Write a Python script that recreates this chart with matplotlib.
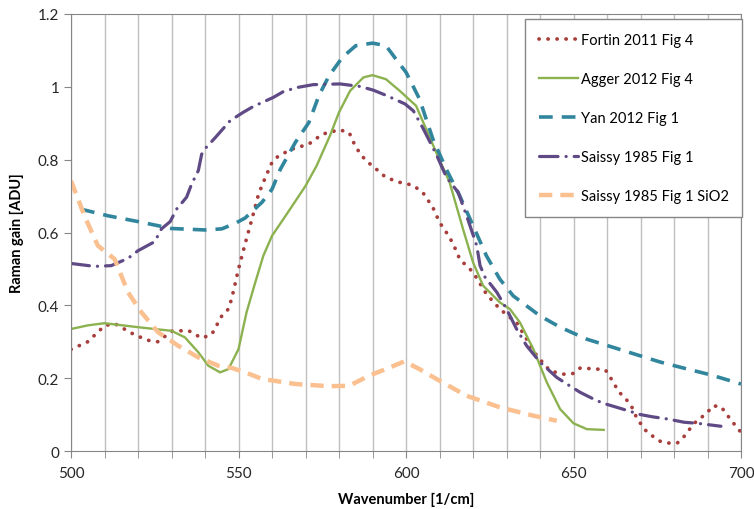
import numpy as np
import matplotlib.pyplot as plt

# --- Datos ---
fortin_x = [500, 505, 510, 513, 519, 523, 526, 530, 535, 539, 542, 545, 547, 548, 550, 552, 554, 556,
            558, 560, 562, 566, 571, 575, 580, 583, 585, 588, 590, 594, 598, 602, 605, 608, 610, 613,
            615, 616, 618, 620, 624, 628, 631, 633, 636, 639, 643, 647, 650, 652, 657, 659.5, 661,
            663.5, 667, 669, 672, 676, 679, 681, 683, 686, 690, 691.5, 694, 697, 700]
fortin_y = [0.279, 0.30, 0.344, 0.35, 0.319, 0.304, 0.30, 0.329, 0.331, 0.31, 0.32, 0.371, 0.39, 0.42,
            0.50, 0.57, 0.637, 0.706, 0.751, 0.793, 0.811, 0.829, 0.843, 0.870, 0.882, 0.875, 0.834,
            0.797, 0.783, 0.751, 0.738, 0.73, 0.71, 0.669, 0.628, 0.587, 0.55, 0.527, 0.509, 0.491,
            0.431, 0.39, 0.367, 0.353, 0.307, 0.262, 0.22, 0.211, 0.213, 0.228, 0.225, 0.223, 0.202,
            0.163, 0.129, 0.088, 0.051, 0.026, 0.021, 0.022, 0.040, 0.076, 0.106, 0.124, 0.122,
            0.085, 0.051]

agger_x = [500, 505, 510, 520, 530, 534, 538, 541, 544.5, 547, 550, 552.4, 555, 557.4, 560, 563.4,
           567.4, 570, 573.3, 577.3, 580, 583.3, 587.3, 590, 594, 598, 603, 609, 613, 617, 620, 623,
           628, 631, 634, 638, 642, 646, 650, 654, 659]
agger_y = [0.335, 0.345, 0.351, 0.34, 0.33, 0.312, 0.271, 0.234, 0.216, 0.225, 0.28, 0.381, 0.463,
           0.536, 0.591, 0.637, 0.692, 0.728, 0.783, 0.866, 0.93, 0.989, 1.026, 1.032, 1.021, 0.99,
           0.948, 0.82, 0.738, 0.61, 0.518, 0.454, 0.408, 0.39, 0.353, 0.28, 0.189, 0.115, 0.076,
           0.06, 0.058]

yan_x = [503, 511, 520, 530, 540, 545, 549, 552, 557, 560, 562.5, 567, 571, 574, 577, 581, 585, 590,
         594, 597, 600, 604, 608, 612, 616, 620, 624, 628, 632, 640, 646, 654, 661, 669, 676, 684,
         691, 700]
yan_y = [0.664, 0.646, 0.63, 0.611, 0.607, 0.61, 0.625, 0.64, 0.683, 0.719, 0.774, 0.848, 0.902,
         0.976, 1.03, 1.081, 1.113, 1.12, 1.113, 1.076, 1.04, 0.967, 0.857, 0.774, 0.701, 0.619,
         0.536, 0.472, 0.426, 0.371, 0.34, 0.307, 0.287, 0.264, 0.244, 0.225, 0.209, 0.184]

saissy_x = [500, 507, 512, 517, 520, 525, 527, 529.6, 531.5, 534.5, 536, 538, 539, 540, 543, 547.5,
            551.4, 554.4, 560.4, 563.4, 567.4, 572.3, 580.3, 586.3, 590.2, 594.2, 599.7, 602.2,
            605.2, 609.2, 612.1, 615.6, 618.6, 621.1, 622.1, 623.6, 627.1, 630, 633, 636, 640, 645,
            648, 652, 657, 660, 664, 670, 673.5, 678, 683, 687, 694]
saissy_y = [0.515, 0.507, 0.509, 0.529, 0.55, 0.575, 0.61, 0.63, 0.664, 0.697, 0.733, 0.77, 0.815,
            0.83, 0.86, 0.907, 0.93, 0.946, 0.971, 0.987, 0.998, 1.006, 1.008, 1.001, 0.991, 0.976,
            0.953, 0.934, 0.884, 0.811, 0.751, 0.71, 0.632, 0.564, 0.509, 0.477, 0.436, 0.39, 0.335,
            0.289, 0.244, 0.202, 0.184, 0.161, 0.138, 0.128, 0.117, 0.1, 0.094, 0.088, 0.079, 0.076,
            0.068]

sio2_x = [500, 504, 508, 513, 514.6, 517, 521, 526, 532, 538, 544, 548, 552, 557, 567, 577, 583, 589,
          594, 599.5, 604, 610, 618, 628, 638, 645]
sio2_y = [0.742, 0.646, 0.564, 0.527, 0.491, 0.436, 0.381, 0.326, 0.289, 0.257, 0.234, 0.228, 0.216,
          0.198, 0.184, 0.178, 0.179, 0.207, 0.225, 0.246, 0.225, 0.193, 0.152, 0.12, 0.097, 0.083]

plt.rcParams['font.family'] = ['Lato', 'DejaVu Sans']

fig = plt.figure(figsize=(7.54, 5.10), dpi=100)
ax = fig.add_axes([0.0942, 0.1137, 0.8886, 0.8569])

# --- Curvas ---
ax.plot(fortin_x, fortin_y, color='#A83E3C', lw=2.7, linestyle=(0, (0.05, 2.35)),
        dash_capstyle='round', label='Fortin 2011 Fig 4')
ax.plot(agger_x, agger_y, color='#8CB250', lw=1.7, label='Agger 2012 Fig 4')
ax.plot(yan_x, yan_y, color='#31869E', lw=2.6, linestyle=(0, (3.8, 2.5)),
        label='Yan 2012 Fig 1')
ax.plot(saissy_x, saissy_y, color='#5F4A86', lw=2.3, linestyle=(0, (5.8, 2.5, 0.05, 2.5)),
        dash_capstyle='round', label='Saissy 1985 Fig 1')
ax.plot(sio2_x, sio2_y, color='#FAC090', lw=3.2, linestyle=(0, (3.0, 1.8)),
        label='Saissy 1985 Fig 1 SiO2')

# --- Ejes ---
ax.set_xlim(500, 700)
ax.set_ylim(0, 1.2)
ax.set_xticks(np.arange(500, 701, 50))
ax.set_xticks(np.arange(500, 701, 10), minor=True)
ax.set_yticks(np.arange(0, 1.21, 0.2))
ax.set_yticklabels(['0', '0.2', '0.4', '0.6', '0.8', '1', '1.2'])
ax.grid(True, which='both', axis='x', color='#BFBFBF', lw=1)
ax.set_axisbelow(True)
ax.tick_params(axis='both', which='both', direction='out', length=5, color='#868686',
               labelsize=11, labelcolor='#262626')
ax.tick_params(axis='x', pad=6)
for s in ax.spines.values():
    s.set_color('#868686')

ax.set_xlabel('Wavenumber [1/cm]', fontsize=10.5, fontweight='bold', labelpad=8)
ax.set_ylabel('Raman gain [ADU]', fontsize=10.5, fontweight='bold', labelpad=10)

leg = ax.legend(loc='upper right', bbox_to_anchor=(1.002, 0.989), borderaxespad=0,
                fontsize=10.5, labelspacing=1.72, handlelength=2.7, handletextpad=0.15,
                borderpad=0.95, fancybox=False, framealpha=1)
leg.get_frame().set_edgecolor('#868686')
leg.get_frame().set_linewidth(1)

plt.savefig('out.png', dpi=100)
